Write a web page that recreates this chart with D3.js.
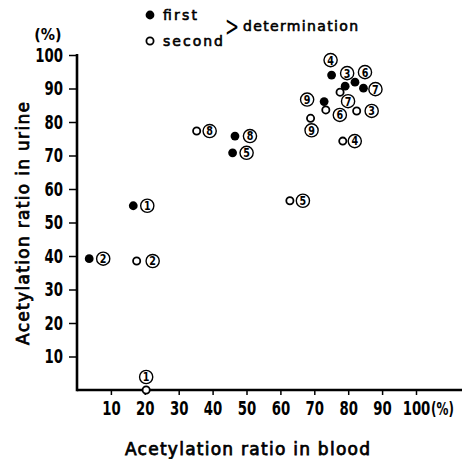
<!DOCTYPE html>
<html><head><meta charset="utf-8">
<script src="https://cdn.jsdelivr.net/npm/d3@7"></script>
<style>
html,body{margin:0;padding:0;background:#fff;}
svg{display:block;}
.tick text{font-family:"DejaVu Sans",sans-serif;font-weight:bold;font-size:19px;fill:#000;}
</style></head>
<body>
<script>
// Acetylation ratios (%) per subject, first and second determination
const subjects = [1, 2, 3, 4, 5, 6, 7, 8, 9];
const firstBlood  = [16.6, 3.6, 79.1, 75.1, 45.9, 82.0, 84.5, 46.6, 72.9];
const firstUrine  = [55.0, 39.2, 90.7, 94.0, 70.8, 91.9, 90.1, 75.8, 86.1];
const secondBlood = [20.4, 17.6, 82.5, 78.4, 62.8, 73.4, 77.6, 35.3, 68.9];
const secondUrine = [0.0, 38.5, 83.3, 74.3, 56.5, 83.6, 88.9, 77.3, 81.1];
const xTicks = [10, 20, 30, 40, 50, 60, 70, 80, 90, 100];
const yTicks = [10, 20, 30, 40, 50, 60, 70, 80, 90, 100];

// where each circled subject number sits relative to its marker (px)
const firstLabelOffset  = [[14,0],[14,0],[2,-13],[-1,-15],[14,0],[10,-10],[12,1],[15,0],[-17,-2]];
const secondLabelOffset = [[0,-13],[16,0],[15,0],[12,0],[13,0],[14,5],[8,9],[13,0],[1,12]];

const W = 463, H = 459;
const NARROW = 0.7;   // horizontal squeeze for the condensed tick numerals
const svg = d3.select("body").append("svg").attr("width", W).attr("height", H);

const x = d3.scaleLinear().domain([0, 100]).range([77, 416]);
const y = d3.scaleLinear().domain([0, 100]).range([390, 55]);

// x axis
const xAxis = svg.append("g").attr("transform", `translate(0,${y(0)})`)
  .call(d3.axisBottom(x).tickValues(xTicks).tickSize(5).tickPadding(7).tickFormat(d => d));
xAxis.select(".domain").remove();
xAxis.selectAll(".tick line").attr("stroke", "#000").attr("stroke-width", 1.5);
xAxis.selectAll(".tick text").attr("transform", `scale(${NARROW},1)`);
// last label reads "100(%)": keep "100" centred on its tick, unit follows
const last = xAxis.selectAll(".tick text").filter(d => d === 100);
const numW = last.node().getComputedTextLength();
last.attr("text-anchor", "start").attr("x", -numW / 2);
last.append("tspan").style("font-size", "17px").attr("dx", 1).text("(%)");

// y axis
const yAxis = svg.append("g").attr("transform", `translate(${x(0)},0)`)
  .call(d3.axisLeft(y).tickValues(yTicks).tickSize(8).tickPadding(6).tickFormat(d => d));
yAxis.select(".domain").remove();
yAxis.selectAll(".tick line").attr("stroke", "#000").attr("stroke-width", 1.5);
yAxis.selectAll(".tick text").attr("transform", `scale(${NARROW},1)`)
  .attr("x", -14 / NARROW);

svg.append("line").attr("x1", x(0)).attr("x2", W - 1).attr("y1", y(0)).attr("y2", y(0))
  .attr("stroke", "#000").attr("stroke-width", 2.6);
svg.append("line").attr("x1", x(0)).attr("x2", x(0)).attr("y1", y(0) + 1.3).attr("y2", y(100) - 1)
  .attr("stroke", "#000").attr("stroke-width", 2.6);

svg.append("text").attr("transform", "translate(48,40) scale(0.95,1)").attr("text-anchor", "middle")
  .style("font-family", '"DejaVu Sans",sans-serif')
  .style("font-weight", "bold").style("font-size", "15px").text("(%)");

// axis titles
const titleStyle = t => t.style("font-family", '"DejaVu Sans",sans-serif').style("font-size", "17px")
  .attr("stroke", "#000").attr("stroke-width", 0.75).attr("lengthAdjust", "spacing");
svg.append("text").attr("x", 125).attr("y", 455).attr("textLength", 245).call(titleStyle)
  .text("Acetylation ratio in blood");
svg.append("text").attr("transform", "translate(29,345) rotate(-90)").attr("textLength", 243).call(titleStyle)
  .text("Acetylation ratio in urine");

// points
const first = subjects.map((s, i) => ({ s, bx: firstBlood[i], u: firstUrine[i], off: firstLabelOffset[i] }));
const second = subjects.map((s, i) => ({ s, bx: secondBlood[i], u: secondUrine[i], off: secondLabelOffset[i] }));

svg.append("g").selectAll("circle").data(first).join("circle")
  .attr("cx", d => x(d.bx)).attr("cy", d => y(d.u)).attr("r", 4.4).attr("fill", "#000");
svg.append("g").selectAll("circle").data(second).join("circle")
  .attr("cx", d => x(d.bx)).attr("cy", d => y(d.u)).attr("r", 3.6)
  .attr("fill", "#fff").attr("stroke", "#000").attr("stroke-width", 1.8);

// circled subject numbers
const tags = svg.append("g").selectAll("g").data(first.concat(second)).join("g")
  .attr("transform", d => `translate(${x(d.bx) + d.off[0]},${y(d.u) + d.off[1]})`);
tags.append("circle").attr("r", 6.6).attr("fill", "#fff").attr("stroke", "#000").attr("stroke-width", 1.4);
tags.append("text").attr("text-anchor", "middle").attr("transform", "translate(0,4.4) scale(0.8,1)")
  .style("font-family", '"DejaVu Sans",sans-serif').style("font-weight", "bold").style("font-size", "12px")
  .text(d => d.s);

// legend
const lg = svg.append("g");
lg.append("circle").attr("cx", 150).attr("cy", 15).attr("r", 4.4).attr("fill", "#000");
lg.append("circle").attr("cx", 150).attr("cy", 41).attr("r", 3.6).attr("fill", "#fff")
  .attr("stroke", "#000").attr("stroke-width", 1.8);
const legFont = t => t.style("font-family", '"DejaVu Sans",sans-serif').style("font-size", "14px")
  .attr("stroke", "#000").attr("stroke-width", 0.6).attr("lengthAdjust", "spacing");
lg.append("text").attr("x", 163).attr("y", 20).attr("textLength", 34).call(legFont).text("first");
lg.append("text").attr("x", 163).attr("y", 46).attr("textLength", 60).call(legFont).text("second");
lg.append("text").attr("x", 243).attr("y", 31).attr("textLength", 115).call(legFont).text("determination");
lg.append("text").attr("transform", "translate(225,36) scale(0.6,1)")
  .style("font-family", '"DejaVu Sans",sans-serif').style("font-size", "28px").text(">");
</script>
</body></html>
